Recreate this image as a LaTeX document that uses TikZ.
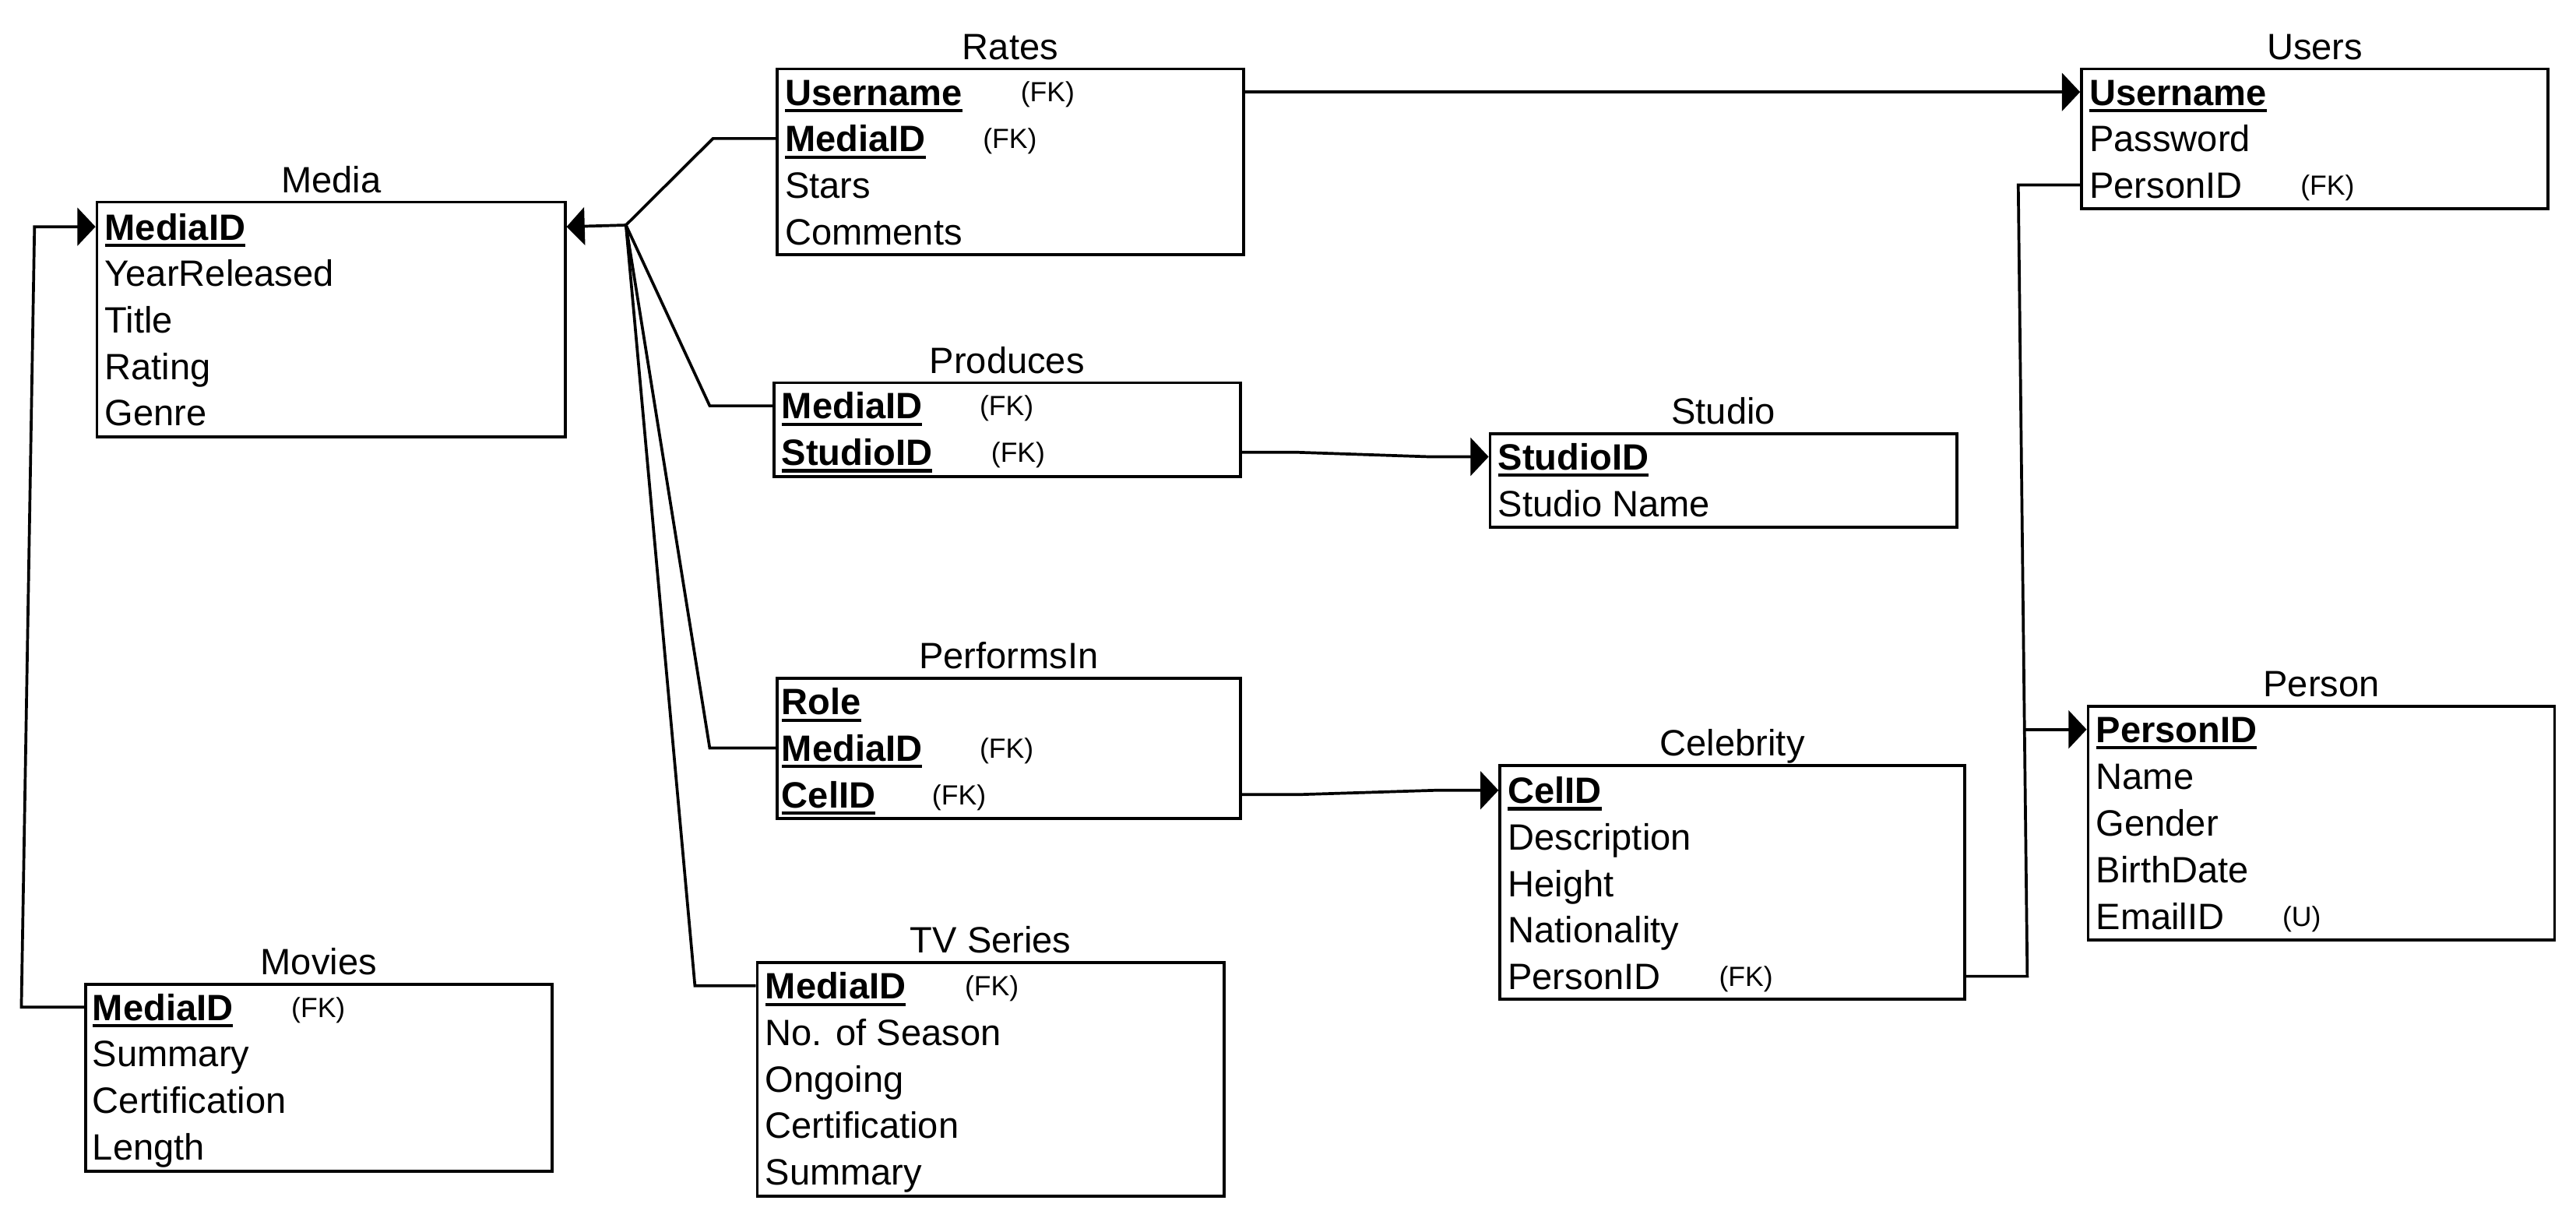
\documentclass[tikz,border=0pt]{standalone}
\usepackage{fontspec}
\setmainfont{Liberation Sans}
\usepackage{tikz}
\usetikzlibrary{arrows.meta,fit}
\newlength\pklen
\newcommand{\pk}[1]{\settowidth{\pklen}{\bfseries #1}\rlap{\rule[-2.4pt]{\pklen}{1.1pt}}\textbf{#1}}
\tikzset{
  tablebox/.style={draw,line width=1pt,inner sep=0pt},
  tabletitle/.style={anchor=base,inner sep=0pt,yshift=0.1cm},
  attr/.style={anchor=west,inner sep=0pt,text height=9.1pt,text depth=0pt},
  fk/.style={anchor=west,inner sep=0pt,font=\fontsize{9.6}{11}\selectfont,text height=6.9pt,text depth=0pt},
  link/.style={line width=1pt},
  tip/.style={-{Triangle[length=0.22cm,width=0.46cm]}}
}

\begin{document}
\begin{tikzpicture}[x=0.02cm,y=-0.02cm,font=\fontsize{12.7}{15}\selectfont]
  \useasboundingbox (0,0) rectangle (1568,741);

  % Media
  \node[tablebox,fit={(59,123) (344,266)}] (media) {};
  \node[tabletitle] (media-t) at (media.north) {Media};
  \foreach \txt [count=\i] in {{\pk{MediaID}},YearReleased,Title,Rating,Genre}
    \node[attr] (media-\i) at (63.5,{138+28.3*(\i-1)}) {\txt};

  % Rates
  \node[tablebox,fit={(473,42) (757,155)}] (rates) {};
  \node[tabletitle] (rates-t) at (rates.north) {Rates};
  \foreach \txt [count=\i] in {{\pk{Username}},{\pk{MediaID}},Stars,Comments}
    \node[attr] (rates-\i) at (477.5,{56+28.3*(\i-1)}) {\txt};
  \node[fk] (rates-fk1) at (621,56) {(FK)};
  \node[fk] (rates-fk2) at (598,84.3) {(FK)};

  % Users
  \node[tablebox,fit={(1267,42) (1551,127)}] (users) {};
  \node[tabletitle] (users-t) at (users.north) {Users};
  \foreach \txt [count=\i] in {{\pk{Username}},Password,PersonID}
    \node[attr] (users-\i) at (1271.5,{56+28.3*(\i-1)}) {\txt};
  \node[fk] (users-fk3) at (1400,112.6) {(FK)};

  % Produces
  \node[tablebox,fit={(471,233) (755,290)}] (produces) {};
  \node[tabletitle] (produces-t) at (produces.north) {Produces};
  \foreach \txt [count=\i] in {{\pk{MediaID}},{\pk{StudioID}}}
    \node[attr] (produces-\i) at (475.5,{247+28.3*(\i-1)}) {\txt};
  \node[fk] (produces-fk1) at (596,247) {(FK)};
  \node[fk] (produces-fk2) at (603,275.3) {(FK)};

  % Studio
  \node[tablebox,fit={(907,264) (1191,321)}] (studio) {};
  \node[tabletitle] (studio-t) at (studio.north) {Studio};
  \foreach \txt [count=\i] in {{\pk{StudioID}},Studio Name}
    \node[attr] (studio-\i) at (911.5,{278+28.3*(\i-1)}) {\txt};

  % PerformsIn
  \node[tablebox,fit={(473,413) (755,498)}] (performs) {};
  \node[tabletitle] (performs-t) at (performs.north) {PerformsIn};
  \foreach \txt [count=\i] in {{\pk{Role}},{\pk{MediaID}},{\pk{CelID}}}
    \node[attr] (performs-\i) at (475.5,{427+28.3*(\i-1)}) {\txt};
  \node[fk] (performs-fk2) at (596,455.3) {(FK)};
  \node[fk] (performs-fk3) at (567,483.6) {(FK)};

  % Celebrity
  \node[tablebox,fit={(913,466) (1196,608)}] (celebrity) {};
  \node[tabletitle] (celebrity-t) at (celebrity.north) {Celebrity};
  \foreach \txt [count=\i] in {{\pk{CelID}},Description,Height,Nationality,PersonID}
    \node[attr] (celebrity-\i) at (917.5,{481+28.3*(\i-1)}) {\txt};
  \node[fk] (celebrity-fk5) at (1046,594.2) {(FK)};

  % Person
  \node[tablebox,fit={(1271,430) (1555,572)}] (person) {};
  \node[tabletitle] (person-t) at (person.north) {Person};
  \foreach \txt [count=\i] in {{\pk{PersonID}},Name,Gender,BirthDate,EmailID}
    \node[attr] (person-\i) at (1275.5,{444+28.4*(\i-1)}) {\txt};
  \node[fk] (person-u5) at (1389,557.6) {(U)};

  % Movies
  \node[tablebox,fit={(52,599) (336,713)}] (movies) {};
  \node[tabletitle] (movies-t) at (movies.north) {Movies};
  \foreach \txt [count=\i] in {{\pk{MediaID}},Summary,Certification,Length}
    \node[attr] (movies-\i) at (56,{613+28.3*(\i-1)}) {\txt};
  \node[fk] (movies-fk1) at (177,613) {(FK)};

  % TV Series
  \node[tablebox,fit={(461,586) (745,728)}] (tv) {};
  \node[tabletitle] (tv-t) at (tv.north) {TV Series};
  \foreach \txt [count=\i] in {{\pk{MediaID}},No. of Season,Ongoing,Certification,Summary}
    \node[attr] (tv-\i) at (465.5,{600+28.3*(\i-1)}) {\txt};
  \node[fk] (tv-fk1) at (587,600) {(FK)};

  % connectors
  \draw[link,tip] (rates.east |- rates-1) -- (users.west |- users-1);

  \coordinate (hub) at (381,137);
  \draw[link,tip] (hub) -- (media.east |- media-1);
  \foreach \tab/\row/\bx in {rates/2/434,produces/1/432,performs/2/432,tv/1/423} {
    \coordinate (bend-\tab) at (\bx,0 |- \tab-\row);
    \draw[link] (hub) -- (bend-\tab) -- (\tab.west |- \tab-\row);
  }

  \coordinate (mv-a) at (13,0 |- movies-1);
  \coordinate (mv-b) at (21,0 |- media-1);
  \draw[link,tip] (movies.west |- movies-1) -- (mv-a) -- (mv-b) -- (media.west |- media-1);

  \coordinate (ps-a) at (790,0 |- produces-2);
  \coordinate (ps-b) at (870,0 |- studio-1);
  \draw[link,tip] (produces.east |- produces-2) -- (ps-a) -- (ps-b) -- (studio.west |- studio-1);

  \coordinate (pc-a) at (791,0 |- performs-3);
  \coordinate (pc-b) at (874,0 |- celebrity-1);
  \draw[link,tip] (performs.east |- performs-3) -- (pc-a) -- (pc-b) -- (celebrity.west |- celebrity-1);

  \coordinate (up-a) at (1228.5,0 |- users-3);
  \coordinate (up-b) at (1234,0 |- celebrity-5);
  \coordinate (up-c) at (1232,0 |- person-1);
  \draw[link] (users.west |- users-3) -- (up-a) -- (up-b) -- (celebrity.east |- celebrity-5);
  \draw[link,tip] (up-c) -- (person.west |- person-1);
\end{tikzpicture}
\end{document}
